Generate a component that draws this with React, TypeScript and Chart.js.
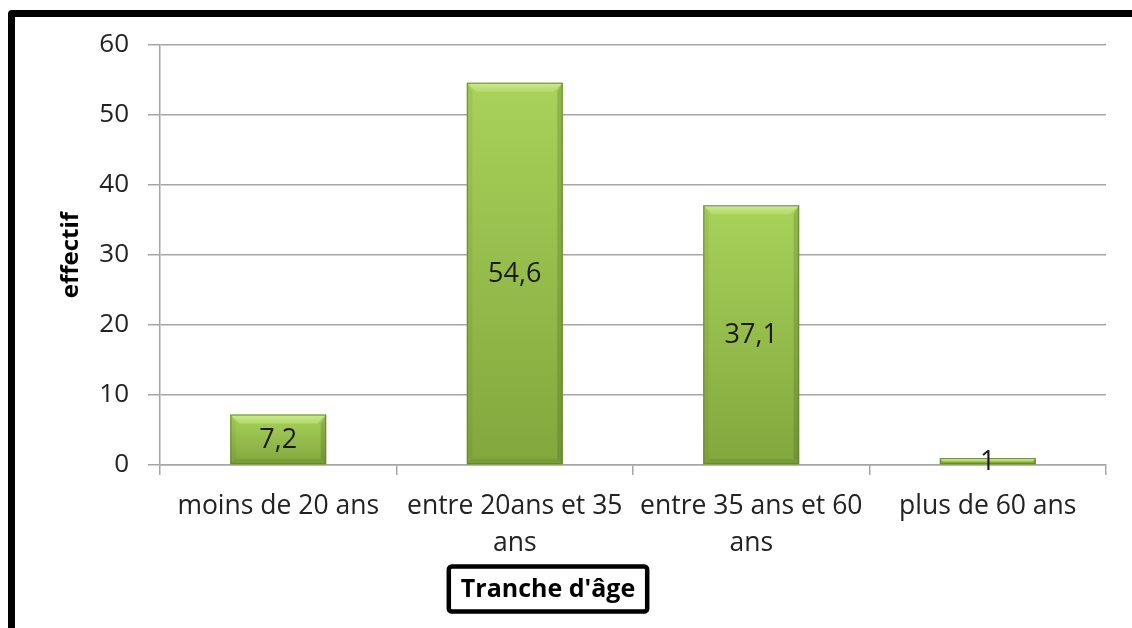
import React, { useEffect, useRef } from "react";
import { Chart, registerables } from "chart.js";

Chart.register(...registerables);

// Age groups and headcount share per group
const categories: (string | string[])[] = [
  "moins de 20 ans",
  ["entre 20ans et 35", "ans"],
  ["entre 35 ans et 60", "ans"],
  "plus de 60 ans",
];
const effectifs: number[] = [7.2, 54.6, 37.1, 1];
const yTicks: number[] = [0, 10, 20, 30, 40, 50, 60];
const yTitle = "effectif";
const xTitle = "Tranche d'âge";

const FONT = "'Open Sans', 'DejaVu Sans', sans-serif";
const TEXT = "#222222";
const GRID = "#a6a6a6";

const fmt = (v: number) => String(v).replace(".", ",");

// Paints each bar with a bevelled green finish and its value label
const bevelBars = {
  id: "bevelBars",
  afterDatasetsDraw(chart: any) {
    const ctx: CanvasRenderingContext2D = chart.ctx;
    const meta = chart.getDatasetMeta(0);
    const values = chart.data.datasets[0].data as number[];
    meta.data.forEach((el: any, i: number) => {
      const { x, y, base, width } = el.getProps(["x", "y", "base", "width"], true);
      const l = x - width / 2;
      const r = x + width / 2;
      const t = Math.min(y, base);
      const b = Math.max(y, base);
      const h = b - t;
      const bev = Math.min(9, h / 2);
      ctx.save();
      const g = ctx.createLinearGradient(0, t, 0, b);
      g.addColorStop(0, "#a8d25a");
      g.addColorStop(1, "#82a73d");
      ctx.fillStyle = g;
      ctx.fillRect(l, t, width, h);

      // top facet
      ctx.beginPath();
      ctx.moveTo(l, t);
      ctx.lineTo(r, t);
      ctx.lineTo(r - bev, t + bev);
      ctx.lineTo(l + bev, t + bev);
      ctx.closePath();
      const tg = ctx.createLinearGradient(0, t, 0, t + bev);
      tg.addColorStop(0, "#cdea92");
      tg.addColorStop(1, "#b2da68");
      ctx.fillStyle = tg;
      ctx.fill();

      // left facet
      ctx.beginPath();
      ctx.moveTo(l, t);
      ctx.lineTo(l + bev * 0.6, t + bev);
      ctx.lineTo(l + bev * 0.6, b - bev * 0.6);
      ctx.lineTo(l, b);
      ctx.closePath();
      ctx.fillStyle = "rgba(60,80,20,0.08)";
      ctx.fill();

      // right facet
      ctx.beginPath();
      ctx.moveTo(r, t);
      ctx.lineTo(r - bev * 0.6, t + bev);
      ctx.lineTo(r - bev * 0.6, b - bev * 0.6);
      ctx.lineTo(r, b);
      ctx.closePath();
      ctx.fillStyle = "rgba(40,60,10,0.18)";
      ctx.fill();

      // bottom facet
      ctx.beginPath();
      ctx.moveTo(l, b);
      ctx.lineTo(l + bev * 0.6, b - bev * 0.6);
      ctx.lineTo(r - bev * 0.6, b - bev * 0.6);
      ctx.lineTo(r, b);
      ctx.closePath();
      ctx.fillStyle = "rgba(40,60,10,0.10)";
      ctx.fill();

      ctx.strokeStyle = "rgba(95,125,45,0.8)";
      ctx.lineWidth = 1;
      ctx.strokeRect(l + 0.5, t + 0.5, width - 1, h - 1);

      // value label
      ctx.fillStyle = "#1a1a1a";
      ctx.font = `27px ${FONT}`;
      ctx.textAlign = "center";
      ctx.textBaseline = "middle";
      ctx.fillText(fmt(values[i]), x, (t + b) / 2 + 1);
      ctx.restore();
    });
  },
};

// Axis titles: rotated y title and boxed x title
const axisTitles = {
  id: "axisTitles",
  afterDraw(chart: any) {
    const ctx: CanvasRenderingContext2D = chart.ctx;
    const area = chart.chartArea;
    ctx.save();
    ctx.fillStyle = "#000";
    ctx.font = `bold 24px ${FONT}`;
    ctx.textAlign = "center";
    ctx.textBaseline = "middle";
    ctx.translate(71, (area.top + area.bottom) / 2);
    ctx.rotate(-Math.PI / 2);
    ctx.fillText(yTitle, 0, 0);
    ctx.restore();

    ctx.save();
    const cx = 548;
    const cy = 589;
    ctx.font = `bold 25px ${FONT}`;
    const w = ctx.measureText(xTitle).width + 24;
    const h = 45;
    ctx.lineWidth = 4.5;
    ctx.strokeStyle = "#000";
    ctx.beginPath();
    (ctx as any).roundRect(cx - w / 2, cy - h / 2, w, h, 3);
    ctx.stroke();
    ctx.fillStyle = "#000";
    ctx.textAlign = "center";
    ctx.textBaseline = "middle";
    ctx.fillText(xTitle, cx, cy + 1);
    ctx.restore();
  },
};

function BarChart() {
  const ref = useRef<HTMLCanvasElement | null>(null);
  useEffect(() => {
    let chart: Chart | null = null;
    let cancelled = false;
    const build = () => {
      if (cancelled || !ref.current) return;
      chart = new Chart(ref.current, {
        type: "bar",
        data: {
          labels: categories,
          datasets: [
            {
              data: effectifs,
              backgroundColor: "#9bc74f",
              categoryPercentage: 1,
              barPercentage: 0.405,
            },
          ],
        },
        options: {
          responsive: false,
          animation: false,
          devicePixelRatio: 1,
          layout: { padding: { left: 0, right: 26, top: 45, bottom: 0 } },
          plugins: {
            legend: { display: false },
            tooltip: { enabled: false },
          },
          scales: {
            x: {
              grid: {
                drawOnChartArea: false,
                drawTicks: true,
                tickLength: 10,
                color: GRID,
                lineWidth: 1.5,
                offset: true,
              },
              border: { display: true, color: GRID, width: 1.5 },
              ticks: {
                color: TEXT,
                font: { family: FONT, size: 26.5, lineHeight: 1.4 },
                padding: 13,
                maxRotation: 0,
                autoSkip: false,
              },
              afterFit(scale: any) {
                scale.height = 163;
              },
            },
            y: {
              min: yTicks[0],
              max: yTicks[yTicks.length - 1],
              afterBuildTicks(scale: any) {
                scale.ticks = yTicks.map((v) => ({ value: v }));
              },
              grid: { color: GRID, lineWidth: 1.5, tickLength: 12 },
              border: { display: true, color: GRID, width: 1.5 },
              ticks: {
                color: TEXT,
                font: { family: FONT, size: 26 },
                padding: 19,
              },
              afterFit(scale: any) {
                scale.width = 160;
              },
            },
          },
        },
        plugins: [bevelBars, axisTitles],
      });
    };
    const fonts = (document as any).fonts;
    if (fonts && fonts.load) {
      Promise.all([
        fonts.load(`26px 'Open Sans'`),
        fonts.load(`bold 25px 'Open Sans'`),
      ]).then(build, build);
    } else {
      build();
    }
    return () => {
      cancelled = true;
      if (chart) chart.destroy();
    };
  }, []);
  return (
    <canvas
      ref={ref}
      width={1132}
      height={628}
      style={{ position: "absolute", left: 0, top: 0, width: 1132, height: 628 }}
    />
  );
}

export default function App() {
  return (
    <div
      style={{
        position: "fixed",
        left: 0,
        top: 0,
        width: 1132,
        height: 628,
        overflow: "hidden",
        background: "#fff",
      }}
    >
      <div
        style={{
          position: "absolute",
          left: 8,
          top: 10,
          width: 1160,
          height: 660,
          border: "7px solid #000",
          borderRadius: 4,
          boxSizing: "border-box",
        }}
      />
      <BarChart />
    </div>
  );
}
